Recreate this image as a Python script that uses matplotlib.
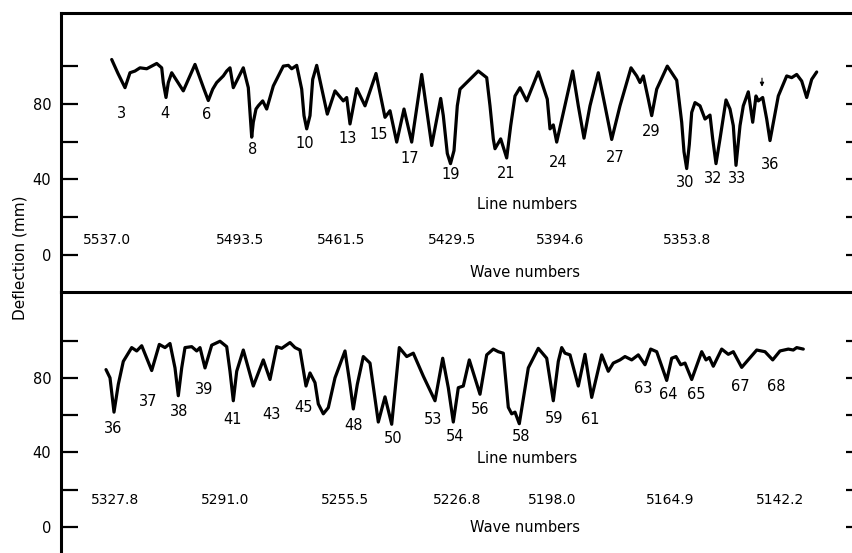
import matplotlib

matplotlib.use("Agg")
import matplotlib.pyplot as plt

# Trace positions along the chart paper (px along the recorder strip) and deflection (mm)
top_pos = [
    111.7, 118, 125, 130, 135, 140, 146.7, 156.7, 161.7, 163.3, 166, 168.3, 171.7, 183.3,
    195, 204, 208.3, 212.7, 216.7, 223.3, 226.7, 230, 233.3, 243.3, 248.3, 250.7, 251.7,
    253.3, 256, 258.3, 262.7, 266.7, 273.3, 283.3, 288.3, 291.7, 296.7, 301.7, 304, 306.7,
    310, 312.7, 316.7, 327.3, 335, 343.3, 346.7, 350, 356.7, 365, 376, 385, 390, 396.7,
    404, 411.7, 421.7, 431.7, 440.7, 443.3, 447.3, 450.5, 454, 457.3, 460, 466.7, 478.3,
    486.7, 490, 493.3, 495, 500.7, 506.7, 510.7, 515, 520, 526.7, 538.3, 547.3, 550,
    553.3, 556.7, 572.7, 578.3, 584, 590, 598.3, 605, 611.7, 620, 631, 636.7, 640, 643.3,
    648.3, 651.7, 656.7, 667.3, 676.7, 681.7, 684, 686.7, 689.3, 691.7, 695, 700, 705,
    710, 712.7, 716, 720, 726, 730, 733.3, 736, 740, 743.3, 748.3, 752.7, 756, 758.3,
    762.7, 766.7, 770, 774, 778.3, 786.7, 791.7, 796.7, 801.7, 806.7, 811.7, 816.7,
]
top_defl = [
    103.4, 96, 88.5, 96.4, 97.3, 99, 98.5, 101.3, 99, 91.2, 83.3, 91.2, 96.4, 86.8,
    100.8, 87.7, 81.7, 87.7, 91.2, 94.7, 97.3, 99, 88.5, 99, 88.5, 70.2, 62.3,
    70.2, 77.2, 78.9, 81.5, 77.2, 89.4, 99.9, 100.3, 98.5, 100.3, 87.7, 73.7, 66.7,
    73.7, 92.9, 100.3, 74.5, 86.8, 81.5, 83.3, 69.3, 88, 78.9, 96, 72.8, 76.3, 59.7,
    77.2, 59.7, 95.5, 57.9, 82.8, 73.7, 53.7, 48.3, 55.2, 78.9, 87.7, 91.2, 97.3,
    93.8, 78.9, 61.4, 56.2, 61.4, 51.3, 68.4, 84.1, 88.5, 81.5, 96.8, 82.4, 66.7,
    68.8, 59.7, 97.3, 78.9, 61.8, 78.9, 96.4, 78.9, 61.1, 78.9, 99, 94.7, 91.2, 94.7,
    82.4, 73.7, 87.7, 99.9, 92.4, 70.2, 54.6, 45.7, 58.4, 75.4, 80.6, 78.9, 71.9,
    74, 61.4, 48.3, 61.4, 82, 77.2, 68.4, 47.4, 68.4, 78.9, 86.3, 70.2, 84.1, 81.5,
    83.3, 71.9, 60.5, 71.9, 84.1, 94.7, 93.8, 95.5, 92, 83.3, 92.9, 96.8,
]

bottom_pos = [
    106, 110, 114, 118.3, 123.3, 131.7, 136.7, 141.7, 151.7, 159.3, 165, 170, 175,
    178.3, 181.7, 185, 191.7, 196.7, 200, 205, 211.7, 220, 226.7, 230, 233.3, 236.7,
    243.3, 253.3, 263.3, 270, 276.7, 281.7, 290, 295, 300, 306, 310, 315, 318.3, 323.3,
    328.3, 335, 345, 350, 353.3, 357.3, 363.3, 370, 378.3, 385, 391.7, 399.3, 406.7,
    413.3, 423.3, 435, 442.7, 448.3, 453.3, 458.3, 463.3, 469.3, 480, 486.7, 493.3,
    498.3, 503.3, 508.3, 511.7, 515, 519.3, 528.3, 538.3, 546.7, 553.3, 558.3, 561.7,
    565, 570, 578.3, 585, 591.7, 601.7, 608.3, 613.3, 620, 625, 631.7, 638.3, 645,
    650.7, 656.7, 666.7, 671.7, 676, 680.7, 685, 691.7, 701.7, 706, 709.3, 713.3,
    721.7, 728.3, 733.3, 741.7, 756.7, 765, 772.7, 780, 788.3, 793.3, 796.7, 803.3,
]
bottom_defl = [
    84.4, 80, 61.6, 76.5, 88.8, 96.2, 94.4, 97.2, 83.9, 97.9, 96.2, 98.4, 85.3,
    70.4, 85.3, 96.2, 96.7, 94.4, 96.2, 85.3, 97.5, 99.6, 96.7, 83.5, 67.7, 83.5,
    94.9, 75.6, 89.6, 79.1, 96.7, 95.8, 98.9, 96.2, 94.9, 75.6, 82.6, 77.4, 66, 60.7,
    64, 80, 94.4, 76.5, 63.3, 76.5, 91.4, 87.9, 56.3, 69.8, 55.1, 96.2, 91.4,
    93.2, 80.9, 67.7, 90.5, 74.7, 56.3, 74.7, 75.6, 89.6, 71.2, 92.3, 95.4,
    94, 93.2, 64.2, 60.7, 61.6, 55.4, 85.3, 95.8, 90.5, 67.7, 88.8, 96.2,
    93.2, 92.3, 75.6, 92.6, 69.5, 92.3, 83.5, 87.9, 89.6, 91.4, 89.6, 92.3, 87,
    95.4, 94, 78.6, 90.5, 91.4, 87, 87.9, 79.1, 94, 89.6, 90.9, 86.2,
    95.4, 92.6, 94, 85.6, 94.9, 94, 89.6, 94.4, 95.4, 94.9, 96.2, 95.4,
]

# Line number labels under the absorption dips
top_lines = ["3", "4", "6", "8", "10", "13", "15", "17", "19", "21", "24", "27", "29", "30", "32", "33", "36"]
top_line_x = [121, 165, 206.7, 252.7, 305, 347.3, 378.3, 409.3, 450.7, 506, 558.3, 615, 650.7, 685, 713, 737, 770]
top_line_y = [74.6, 74.6, 74.1, 55.6, 59.1, 61.4, 63.5, 51.2, 42.3, 43.2, 48.8, 51.7, 65.2, 38.1, 40.7, 40.7, 48.1]

bottom_lines = ["36", "37", "38", "39", "41", "43", "45", "48", "50", "53", "54", "56", "58", "59", "61", "63", "64", "65", "67", "68"]
bottom_line_x = [113.3, 148.3, 179.3, 204, 232.7, 271.7, 303.3, 353.3, 392.7, 433.3, 455, 480, 521, 554.3, 590, 642.7, 668.3, 696, 740, 776.7]
bottom_line_y = [52.9, 67.2, 61.8, 73.8, 57.7, 60.4, 64.2, 54.2, 47.6, 57.7, 48.8, 63.1, 48.4, 58.3, 57.7, 74.4, 70.8, 70.8, 75.2, 75.2]

# Wave number markers along each strip
top_waves = ["5537.0", "5493.5", "5461.5", "5429.5", "5394.6", "5353.8"]
top_wave_x = [107.5, 240, 341.5, 452.5, 560, 687.5]
bottom_waves = ["5327.8", "5291.0", "5255.5", "5226.8", "5198.0", "5164.9", "5142.2"]
bottom_wave_x = [115, 225, 345, 457.5, 552.5, 670, 780]

yticks = [0, 20, 40, 60, 80, 100]
ytick_labels = ["0", "", "40", "", "80", ""]

plt.rcParams["font.family"] = ["DejaVu Sans"]
W, H = 852, 553
fig = plt.figure(figsize=(W / 100, H / 100), dpi=100)

left = 61 / W
mid = 1 - 292 / H
ax1 = fig.add_axes([left, mid, 1 - left, (292 - 13) / H])
ax2 = fig.add_axes([left, 0, 1 - left, mid])


def style_axes(ax, ylim):
    ax.patch.set_visible(False)
    ax.set_xlim(61, 852)
    ax.set_ylim(*ylim)
    ax.set_xticks([])
    ax.set_yticks(yticks)
    ax.set_yticklabels(ytick_labels)
    ax.tick_params(axis="y", direction="in", length=12, width=1.6, pad=7, labelsize=10.5)
    for s in ["right", "top", "bottom", "left"]:
        ax.spines[s].set_linewidth(2.2)
    ax.spines["right"].set_visible(False)
    # short ticks on the right edge
    axr = ax.twinx()
    axr.patch.set_visible(False)
    axr.set_ylim(*ylim)
    axr.set_yticks(yticks)
    axr.set_yticklabels([])
    axr.tick_params(axis="y", direction="in", length=4.5, width=1.6)
    for s in axr.spines.values():
        s.set_visible(False)


style_axes(ax1, (-19.6, 128.0))
style_axes(ax2, (-13.9, 126.0))
ax2.spines["top"].set_visible(False)
ax2.spines["bottom"].set_visible(False)

lw = 2.3
ax1.plot(top_pos, top_defl, color="black", lw=lw, solid_joinstyle="round", solid_capstyle="round")
ax2.plot(bottom_pos, bottom_defl, color="black", lw=lw, solid_joinstyle="round", solid_capstyle="round")

fs = 10.5
for lab, x, y in zip(top_lines, top_line_x, top_line_y):
    ax1.text(x, y, lab, ha="center", va="center", fontsize=fs)
for lab, x, y in zip(bottom_lines, bottom_line_x, bottom_line_y):
    ax2.text(x, y, lab, ha="center", va="center", fontsize=fs)

# small arrow above the line 36 dip
ax1.annotate("", xy=(762, 87.5), xytext=(762, 95),
             arrowprops=dict(arrowstyle="-|>", lw=0.8, color="black", mutation_scale=6))

for lab, x in zip(top_waves, top_wave_x):
    ax1.text(x, 7.9, lab, ha="center", va="center", fontsize=10)
for lab, x in zip(bottom_waves, bottom_wave_x):
    ax2.text(x, 14.5, lab, ha="center", va="center", fontsize=10)

ax1.text(527, 26.5, "Line numbers", ha="center", va="center", fontsize=fs)
ax1.text(525, -9.5, "Wave numbers", ha="center", va="center", fontsize=fs)
ax2.text(527, 37, "Line numbers", ha="center", va="center", fontsize=fs)
ax2.text(525, 0, "Wave numbers", ha="center", va="center", fontsize=fs)

fig.text(20 / W, 1 - 258 / H, "Deflection (mm)", rotation=90, ha="center", va="center", fontsize=11)

fig.savefig("out.png", dpi=100)
